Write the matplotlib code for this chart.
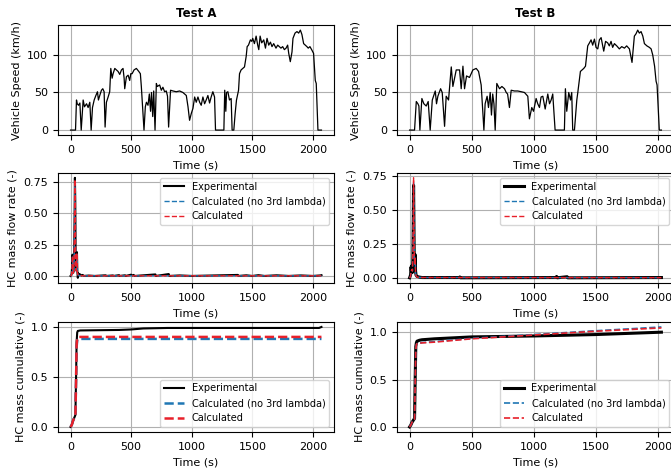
import matplotlib
matplotlib.use('Agg')
import matplotlib.pyplot as plt

# Vehicle speed (time s, km/h)
speed_a = [(0, 0), (41, 0), (49, 40), (55, 35), (66, 33), (77, 36), (88, 0), (104, 40), (115, 31),
           (132, 35), (145, 30), (159, 37), (170, 0), (181, 30), (195, 40), (209, 46), (222, 51),
           (230, 40), (241, 46), (255, 53), (266, 55), (277, 51), (285, 4), (296, 37), (310, 44),
           (323, 51), (332, 82), (343, 69), (351, 75), (365, 82), (378, 80), (392, 78), (406, 74),
           (420, 80), (433, 82), (442, 69), (447, 55), (461, 71), (475, 73), (488, 66), (497, 75),
           (508, 75), (524, 80), (543, 82), (563, 78), (576, 75), (584, 58), (598, 22), (606, 0),
           (617, 31), (626, 37), (639, 33), (650, 48), (660, 25), (668, 50), (678, 18), (686, 52),
           (697, 0), (708, 62), (716, 58), (735, 60), (749, 53), (762, 57), (776, 51), (790, 52),
           (800, 45), (809, 4), (825, 53), (845, 52), (872, 51), (900, 52), (927, 50), (955, 46),
           (969, 31), (982, 13), (996, 22), (1010, 29), (1024, 44), (1037, 37), (1051, 44),
           (1065, 37), (1078, 33), (1092, 44), (1106, 35), (1119, 40), (1133, 46), (1147, 36),
           (1160, 44), (1174, 51), (1188, 44), (1196, 0), (1265, 0), (1272, 53), (1281, 25),
           (1287, 50), (1298, 51), (1311, 40), (1325, 42), (1333, 0), (1347, 0), (1358, 22),
           (1369, 40), (1386, 53), (1394, 75), (1407, 80), (1421, 82), (1435, 84), (1449, 98),
           (1457, 111), (1468, 113), (1484, 120), (1495, 118), (1503, 122), (1517, 115),
           (1531, 125), (1544, 113), (1553, 107), (1564, 125), (1577, 116), (1594, 120),
           (1608, 109), (1621, 122), (1635, 113), (1649, 117), (1662, 111), (1676, 115),
           (1695, 109), (1709, 113), (1722, 111), (1736, 109), (1750, 111), (1764, 107),
           (1778, 109), (1791, 113), (1800, 102), (1813, 91), (1827, 104), (1835, 122),
           (1852, 129), (1868, 131), (1882, 129), (1896, 133), (1909, 127), (1923, 115),
           (1937, 113), (1950, 111), (1961, 109), (1975, 111), (1989, 107), (2005, 102),
           (2019, 66), (2027, 62), (2041, 0), (2070, 0)]

speed_b = [(0, 0), (40, 0), (54, 38), (67, 35), (75, 32), (83, 0), (99, 42), (115, 35), (134, 32),
           (150, 38), (166, 0), (183, 40), (207, 52), (217, 35), (228, 45), (250, 55), (263, 50),
           (282, 5), (295, 45), (314, 40), (336, 84), (349, 58), (376, 80), (403, 80), (416, 55),
           (430, 85), (443, 55), (459, 72), (483, 70), (510, 80), (537, 82), (556, 78), (577, 60),
           (590, 25), (599, 0), (609, 35), (625, 45), (636, 30), (650, 50), (660, 20), (670, 48),
           (680, 35), (690, 0), (703, 62), (725, 55), (744, 58), (765, 55), (779, 50), (790, 48),
           (805, 30), (819, 53), (845, 52), (872, 52), (900, 51), (926, 50), (953, 45), (966, 15),
           (985, 30), (999, 25), (1020, 42), (1033, 35), (1047, 30), (1060, 44), (1074, 45),
           (1093, 28), (1114, 48), (1128, 35), (1141, 40), (1154, 48), (1173, 0), (1248, 0),
           (1256, 55), (1267, 25), (1283, 50), (1297, 40), (1307, 50), (1315, 0), (1329, 0),
           (1348, 40), (1356, 50), (1377, 78), (1404, 82), (1418, 85), (1428, 100), (1436, 112),
           (1450, 116), (1463, 120), (1476, 113), (1490, 121), (1503, 110), (1517, 108),
           (1530, 120), (1544, 123), (1565, 105), (1580, 118), (1597, 116), (1610, 112),
           (1624, 118), (1637, 110), (1651, 115), (1670, 112), (1691, 108), (1710, 111),
           (1732, 109), (1750, 112), (1772, 108), (1793, 90), (1812, 125), (1825, 128),
           (1839, 133), (1852, 129), (1866, 131), (1880, 125), (1893, 115), (1913, 112),
           (1933, 110), (1947, 108), (1960, 100), (1975, 85), (1987, 65), (1995, 60), (2013, 0),
           (2030, 0)]

# HC mass flow rate (-)
flow_exp_a = [(0, 0), (8, 0.01), (12, 0.06), (16, 0.17), (19, 0.04), (24, 0.03), (29, 0.1),
              (33, 0.45), (36, 0.785), (39, 0.6), (42, 0.15), (46, 0.05), (50, 0.12), (53, 0.19),
              (56, 0.04), (60, -0.015), (65, 0.02), (70, 0.005), (80, 0.012), (90, 0.003),
              (100, 0.008), (110, 0), (150, 0.003), (200, 0), (290, 0.005), (295, 0), (350, 0.004),
              (355, 0), (400, 0.006), (405, 0), (450, 0.005), (455, 0), (500, 0.01), (510, 0.003),
              (520, 0.008), (530, 0), (700, 0.012), (705, 0), (810, 0.015), (815, 0), (900, 0.004),
              (1000, 0), (1380, 0.008), (1385, 0), (1450, 0.005), (1500, 0), (1550, 0.006),
              (1600, 0), (1700, 0.005), (1800, 0), (1900, 0.004), (2000, 0), (2060, 0.004),
              (2070, 0.006)]
flow_noL3_a = [(0, 0), (8, 0.005), (12, 0.05), (16, 0.15), (19, 0.03), (24, 0.02), (29, 0.08),
               (33, 0.42), (36, 0.75), (39, 0.55), (42, 0.12), (46, 0.04), (50, 0.1), (53, 0.17),
               (56, 0.03), (60, 0.01), (70, 0.003), (100, 0.001), (2070, 0.001)]
flow_calc_a = [(0, 0), (8, 0.005), (12, 0.05), (16, 0.16), (19, 0.03), (24, 0.02), (29, 0.09),
               (33, 0.44), (36, 0.77), (39, 0.57), (42, 0.13), (46, 0.04), (50, 0.11), (53, 0.18),
               (56, 0.03), (60, 0.01), (70, 0.003), (100, 0.001), (2070, 0.001)]

flow_exp_b = [(0, 0), (8, 0.02), (12, 0.08), (15, 0.05), (19, 0.09), (23, 0.04), (27, 0.15),
              (30, 0.45), (32, 0.68), (35, 0.4), (38, 0.08), (42, 0.12), (45, 0.17), (48, 0.05),
              (52, 0.02), (60, 0.01), (80, 0.005), (100, 0.002), (400, 0.002), (405, 0.006),
              (410, 0), (1180, 0.002), (1185, 0.01), (1190, 0), (1270, 0.008), (1275, 0),
              (2030, 0.002)]
flow_noL3_b = [(0, 0), (8, 0.01), (12, 0.05), (19, 0.06), (23, 0.05), (27, 0.2), (30, 0.5),
               (32, 0.7), (35, 0.45), (38, 0.15), (42, 0.1), (45, 0.14), (48, 0.04), (52, 0.015),
               (60, 0.005), (100, 0.002), (2030, 0.001)]
flow_calc_b = [(0, 0), (8, 0.01), (12, 0.05), (19, 0.06), (23, 0.05), (27, 0.21), (30, 0.52),
               (32, 0.735), (35, 0.46), (38, 0.15), (42, 0.1), (45, 0.15), (48, 0.04), (52, 0.015),
               (60, 0.005), (100, 0.002), (2030, 0.001)]

# HC mass cumulative (-)
cum_exp_a = [(0, 0), (10, 0.02), (20, 0.06), (30, 0.09), (40, 0.12), (45, 0.45), (50, 0.85),
             (55, 0.95), (60, 0.965), (80, 0.97), (200, 0.972), (400, 0.975), (500, 0.98),
             (600, 0.99), (800, 0.995), (2050, 0.995), (2060, 1.0), (2070, 1.005)]
cum_noL3_a = [(0, 0), (10, 0.02), (20, 0.06), (30, 0.09), (40, 0.11), (45, 0.42), (50, 0.8),
              (55, 0.875), (60, 0.884), (80, 0.885), (2070, 0.885)]
cum_calc_a = [(0, 0), (10, 0.02), (20, 0.06), (30, 0.09), (40, 0.11), (45, 0.43), (50, 0.82),
              (55, 0.895), (60, 0.904), (80, 0.905), (2070, 0.905)]

cum_exp_b = [(0, 0), (10, 0.02), (20, 0.05), (30, 0.07), (40, 0.09), (45, 0.5), (50, 0.85),
             (55, 0.89), (60, 0.905), (80, 0.915), (100, 0.92), (200, 0.93), (500, 0.95),
             (1000, 0.96), (1500, 0.975), (2030, 1.0)]
cum_noL3_b = [(0, 0), (10, 0.02), (20, 0.05), (30, 0.07), (40, 0.08), (45, 0.45), (50, 0.82),
              (55, 0.87), (60, 0.88), (80, 0.885), (100, 0.89), (200, 0.9), (500, 0.935),
              (1000, 0.975), (1500, 1.015), (2030, 1.055)]
cum_calc_b = [(0, 0), (10, 0.02), (20, 0.05), (30, 0.07), (40, 0.08), (45, 0.45), (50, 0.82),
              (55, 0.87), (60, 0.878), (80, 0.883), (100, 0.887), (200, 0.895), (500, 0.93),
              (1000, 0.97), (1500, 1.01), (2030, 1.045)]

labels = ['Experimental', 'Calculated (no 3rd lambda)', 'Calculated']
titles = ['Test A', 'Test B']

plt.rcParams['font.size'] = 8

fig = plt.figure(figsize=(6.71, 4.69), dpi=100)

# axes placement in figure fractions (two columns, three rows)
col_left = [58 / 671, 397 / 671]
col_width = [276 / 671, 277 / 671]
row_bottom = [0.712, 0.397, 0.079]
row_height = 0.2345

columns = [
    dict(speed=speed_a, flow=(flow_exp_a, flow_noL3_a, flow_calc_a),
         cum=(cum_exp_a, cum_noL3_a, cum_calc_a), lw_exp=1.5, lw_flow=1.0, lw_cum=1.8),
    dict(speed=speed_b, flow=(flow_exp_b, flow_noL3_b, flow_calc_b),
         cum=(cum_exp_b, cum_noL3_b, cum_calc_b), lw_exp=2.2, lw_flow=1.0, lw_cum=1.2),
]

for c, col in enumerate(columns):
    axes = [fig.add_axes([col_left[c], row_bottom[r], col_width[c], row_height]) for r in range(3)]

    # vehicle speed
    t, v = zip(*col['speed'])
    axes[0].plot(t, v, color='black', linewidth=0.9)
    axes[0].set_title(titles[c], fontweight='bold', fontsize=8.5)
    axes[0].set_ylabel('Vehicle Speed (km/h)')

    # mass flow rate
    for series, color, style, lw in zip(col['flow'], ['black', '#1f77b4', '#e8202a'],
                                        ['-', '--', '--'],
                                        [col['lw_exp'], col['lw_flow'], col['lw_flow']]):
        t, v = zip(*series)
        axes[1].plot(t, v, color=color, linestyle=style, linewidth=lw)
    axes[1].set_ylabel('HC mass flow rate (-)')
    axes[1].set_yticks([0, 0.25, 0.5, 0.75])
    axes[1].legend(labels, loc='upper right', fontsize=7)

    # cumulative mass
    for series, color, style, lw in zip(col['cum'], ['black', '#1f77b4', '#e8202a'],
                                        ['-', '--', '--'],
                                        [col['lw_exp'], col['lw_cum'], col['lw_cum']]):
        t, v = zip(*series)
        axes[2].plot(t, v, color=color, linestyle=style, linewidth=lw)
    axes[2].set_ylabel('HC mass cumulative (-)')
    axes[2].legend(labels, loc='lower right', fontsize=7)

    for ax in axes:
        ax.set_xlabel('Time (s)')
        ax.grid(True)

plt.savefig('out.png', dpi=100)
plt.close()
